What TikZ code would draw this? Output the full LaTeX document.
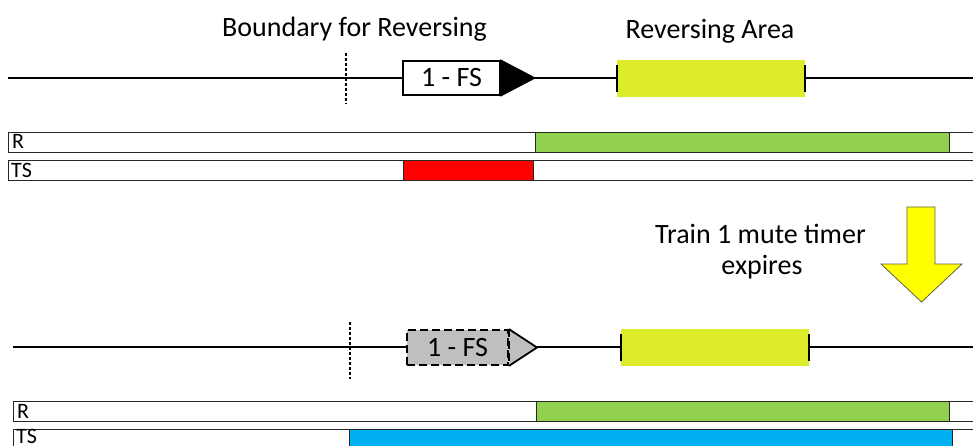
\documentclass[tikz,border=0pt]{standalone}
\usepackage{fontspec}
\setmainfont{Carlito}
\definecolor{areay}{HTML}{DCEB2A}
\definecolor{rgreen}{HTML}{92D050}
\definecolor{tsred}{HTML}{FF0000}
\definecolor{tsblue}{HTML}{00B0F0}
\definecolor{fsgray}{HTML}{BFBFBF}
\definecolor{arrowy}{HTML}{FFFF00}
\begin{document}
\begin{tikzpicture}[x=1pt,y=-1pt,
  track/.style={line width=2.4pt, black},
  boundary/.style={line width=2pt, dash pattern=on 3pt off 2pt},
  title/.style={font=\fontsize{28}{31}\selectfont, inner sep=0pt, anchor=base},
  barlabel/.style={font=\fontsize{22}{24}\selectfont, inner sep=0pt, anchor=base west},
  bar/.style={draw=black!85, line width=1.1pt, anchor=north west, minimum height=20pt, inner sep=0pt},
  area/.style={fill=areay, inner sep=0pt, minimum width=188pt, minimum height=37pt},
  tick/.style={line width=2.4pt, black},
  fsbox/.style={draw=black, fill=white, line width=1.8pt, inner sep=0pt, font=\fontsize{28}{31}\selectfont},
  fsghost/.style={draw=black, fill=fsgray, line width=1.8pt, dash pattern=on 8pt off 4pt, inner sep=0pt, font=\fontsize{28}{31}\selectfont}
]
\useasboundingbox (0,0) rectangle (973,446);
\clip (0,0) rectangle (973,446);

% ---------- top titles ----------
\node[title] (tb) at (354.5,37) {Boundary for Reversing};
\node[title] (ta) at (710,39) {Reversing Area};

% ---------- top track ----------
\coordinate (tl1) at (8,78);
\coordinate (tr1) at (975,78);
\draw[track] (tl1) -- (tr1);
\coordinate (b1t) at (346,53);
\coordinate (b1b) at (346,104);
\draw[boundary] (b1t) -- (b1b);
\node[area] (ra1) at (711,78.5) {};
\draw[tick] ([yshift=-13.5pt]ra1.west) -- ([yshift=13.5pt]ra1.west);
\draw[tick] ([yshift=-13.5pt]ra1.east) -- ([yshift=13.5pt]ra1.east);
\node[fsbox, minimum width=97pt, minimum height=34pt] (fs1) at (451.5,78) {1 - FS};
\coordinate (tip1) at (535,78);
\filldraw[black, line width=1pt, line join=miter] (fs1.north east) -- (tip1) -- (fs1.south east) -- cycle;

% ---------- top bars ----------
\node[bar, minimum width=975pt] (r1) at (8,132) {};
\node[bar, fill=rgreen, minimum width=414pt] (g1) at (535,132) {};
\node[barlabel] (lr1) at (12,149) {R};
\node[bar, minimum width=975pt] (t1) at (8,160) {};
\node[bar, fill=tsred, minimum width=130pt] (red1) at (403,160) {};
\node[barlabel] (lt1) at (11,177.5) {TS};

% ---------- event ----------
\node[title] (tm1) at (760.5,243) {Train 1 mute timer};
\node[title] (tm2) at (762,274) {expires};
\filldraw[fill=arrowy, draw=black!70!yellow, line width=0.8pt]
  (907,207) -- (935,207) -- (935,264) -- (962,264) -- (921.5,302) -- (881,264) -- (907,264) -- cycle;

% ---------- bottom track ----------
\coordinate (tl2) at (13,347);
\coordinate (tr2) at (975,347);
\draw[track] (tl2) -- (tr2);
\coordinate (b2t) at (350,322);
\coordinate (b2b) at (350,379);
\draw[boundary] (b2t) -- (b2b);
\node[area] (ra2) at (715,347.5) {};
\draw[tick] ([yshift=-13.5pt]ra2.west) -- ([yshift=13.5pt]ra2.west);
\draw[tick] ([yshift=-13.5pt]ra2.east) -- ([yshift=13.5pt]ra2.east);
\coordinate (tip2) at (537,347.5);
\node[fsghost, minimum width=101pt, minimum height=35pt] (fs2) at (457.5,347.5) {1 - FS};
\filldraw[fill=fsgray, draw=black, line width=1.8pt, line join=miter] (fs2.north east) -- (tip2) -- (fs2.south east);
\draw[black, line width=1.8pt, dash pattern=on 8pt off 4pt] (fs2.north east) -- (fs2.south east);

% ---------- bottom bars ----------
\node[bar, minimum width=975pt] (r2) at (13,401) {};
\node[bar, fill=rgreen, minimum width=413pt] (g2) at (536,401) {};
\node[barlabel] (lr2) at (17,418) {R};
\node[bar, minimum width=975pt, minimum height=30pt] (t2) at (13,429) {};
\node[bar, fill=tsblue, minimum width=603pt, minimum height=30pt] (blue2) at (349,429) {};
\node[barlabel] (lt2) at (16,443) {TS};
\end{tikzpicture}
\end{document}
